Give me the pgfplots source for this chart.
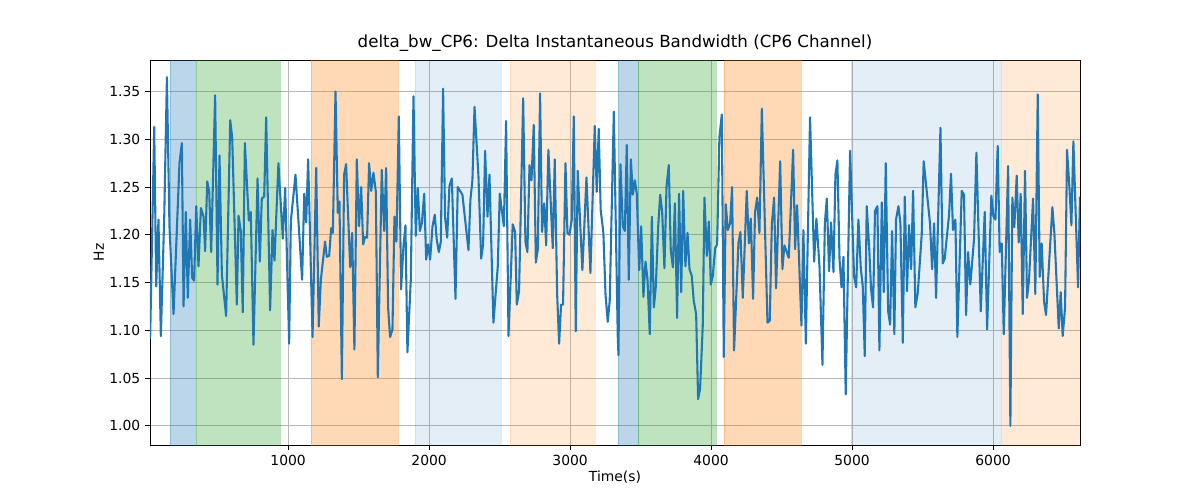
\documentclass[border=0pt]{standalone}
\usepackage{pgfplots}
\pgfplotsset{compat=1.18}
\usepackage{fontspec}
\setmainfont{DejaVu Sans}
\definecolor{cblue}{HTML}{1F77B4}
\definecolor{corange}{HTML}{FF7F0E}
\definecolor{cgreen}{HTML}{2CA02C}
\pgfplotsset{span/.style n args={2}{fill=#1, fill opacity=#2, draw=#1, draw opacity=#2, forget plot}}
\begin{document}
\begin{tikzpicture}
\path[use as bounding box] (-108pt,-39.6pt) rectangle (756pt,320.4pt);
\begin{axis}[
  at={(0,0)}, anchor=south west, scale only axis,
  width=669.6pt, height=277.2pt,
  xmin=20, xmax=6617, ymin=0.980, ymax=1.383,
  xtick={1000,2000,3000,4000,5000,6000},
  ytick={1.00,1.05,1.10,1.15,1.20,1.25,1.30,1.35},
  xtick pos=bottom, ytick pos=left,
  yticklabel style={/pgf/number format/.cd,fixed,fixed zerofill,precision=2},
  xticklabel style={/pgf/number format/.cd,1000 sep={}},
  /pgf/number format/assume math mode=true,
  ticklabel style={font=\fontsize{10}{12}\selectfont},
  grid=major, grid style={color=black!28, line width=0.6pt},
  tick align=outside, major tick length=3.5pt,
  tick style={black, line width=0.6pt},
  axis line style={line width=0.6pt},
  title={delta\_bw\_CP6: Delta Instantaneous Bandwidth (CP6 Channel)},
  title style={font=\fontsize{12}{14}\selectfont, yshift=-3pt},
  xlabel={Time(s)}, ylabel={Hz},
  label style={font=\fontsize{10}{12}\selectfont},
  xlabel style={yshift=3pt}, ylabel style={yshift=-3pt},
]
\addplot[span={cblue}{0.3}] coordinates {(163,0.9)(340,0.9)(340,1.5)(163,1.5)(163,0.9)};
\addplot[span={cgreen}{0.3}] coordinates {(348,0.9)(943,0.9)(943,1.5)(348,1.5)(348,0.9)};
\addplot[span={corange}{0.3}] coordinates {(1163,0.9)(1780,0.9)(1780,1.5)(1163,1.5)(1163,0.9)};
\addplot[span={cblue}{0.12}] coordinates {(1900,0.9)(2511,0.9)(2511,1.5)(1900,1.5)(1900,0.9)};
\addplot[span={corange}{0.16}] coordinates {(2574,0.9)(3177,0.9)(3177,1.5)(2574,1.5)(2574,0.9)};
\addplot[span={cblue}{0.3}] coordinates {(3340,0.9)(3482,0.9)(3482,1.5)(3340,1.5)(3340,0.9)};
\addplot[span={cgreen}{0.3}] coordinates {(3482,0.9)(4035,0.9)(4035,1.5)(3482,1.5)(3482,0.9)};
\addplot[span={corange}{0.3}] coordinates {(4092,0.9)(4638,0.9)(4638,1.5)(4092,1.5)(4092,0.9)};
\addplot[span={cblue}{0.12}] coordinates {(4993,0.9)(6050,0.9)(6050,1.5)(4993,1.5)(4993,0.9)};
\addplot[span={corange}{0.16}] coordinates {(6057,0.9)(6617,0.9)(6617,1.5)(6057,1.5)(6057,0.9)};
\addplot[cblue, line width=1.5pt, line join=round] coordinates {
(21,1.091)(50,1.313)(64,1.146)(80,1.216)(97,1.094)(121,1.219)(140,1.365)(158,1.209)(187,1.117)(229,1.275)(246,1.296)(258,1.125)(274,1.224)(288,1.134)(305,1.216)(319,1.155)(333,1.152)(348,1.230)(364,1.167)(381,1.228)(400,1.219)(411,1.183)(426,1.256)(440,1.245)(454,1.182)(482,1.346)(499,1.148)(513,1.283)(530,1.158)(560,1.115)(589,1.320)(603,1.302)(636,1.127)(648,1.220)(664,1.204)(678,1.119)(693,1.296)(721,1.215)(735,1.224)(754,1.085)(783,1.259)(799,1.172)(813,1.238)(830,1.240)(844,1.323)(872,1.121)(889,1.205)(903,1.173)(931,1.275)(962,1.196)(979,1.249)(1007,1.086)(1019,1.214)(1052,1.263)(1071,1.219)(1099,1.153)(1114,1.243)(1128,1.213)(1142,1.279)(1173,1.093)(1199,1.270)(1217,1.104)(1232,1.153)(1262,1.193)(1274,1.177)(1291,1.178)(1305,1.207)(1317,1.202)(1336,1.350)(1352,1.223)(1364,1.235)(1381,1.049)(1397,1.263)(1411,1.274)(1440,1.166)(1454,1.202)(1470,1.080)(1487,1.279)(1503,1.209)(1518,1.250)(1532,1.190)(1546,1.198)(1560,1.197)(1574,1.275)(1589,1.246)(1605,1.265)(1622,1.245)(1636,1.051)(1664,1.268)(1681,1.204)(1695,1.270)(1709,1.124)
(1723,1.093)(1740,1.101)(1754,1.219)(1768,1.193)(1785,1.324)(1801,1.143)(1818,1.188)(1832,1.210)(1846,1.077)(1870,1.153)(1889,1.345)(1905,1.199)(1920,1.249)(1934,1.204)(1948,1.212)(1965,1.243)(1979,1.174)(1993,1.190)(2007,1.174)(2024,1.209)(2040,1.221)(2054,1.195)(2069,1.182)(2083,1.193)(2099,1.353)(2113,1.219)(2128,1.197)(2144,1.251)(2161,1.259)(2187,1.133)(2203,1.250)(2236,1.242)(2279,1.184)(2293,1.237)(2307,1.257)(2322,1.334)(2350,1.261)(2369,1.175)(2383,1.190)(2397,1.288)(2414,1.219)(2428,1.263)(2456,1.108)(2487,1.167)(2501,1.243)(2530,1.209)(2546,1.319)(2563,1.094)(2593,1.211)(2610,1.203)(2622,1.127)(2638,1.141)(2667,1.343)(2683,1.193)(2697,1.182)(2712,1.273)(2726,1.257)(2742,1.315)(2757,1.171)(2771,1.185)(2787,1.348)(2801,1.203)(2816,1.233)(2830,1.189)(2846,1.289)(2877,1.186)(2891,1.279)(2908,1.138)(2922,1.086)(2936,1.127)(2950,1.127)(2967,1.275)(2981,1.202)(2995,1.200)(3012,1.216)(3026,1.324)(3040,1.099)(3054,1.267)(3087,1.163)(3116,1.260)(3144,1.160)(3175,1.314)(3189,1.245)(3203,1.311)(3217,1.226)(3236,1.202)(3251,1.138)(3267,1.109)(3281,1.131)(3310,1.329)(3338,1.094)(3343,1.074)(3357,1.274)
(3374,1.209)(3388,1.204)(3402,1.294)(3416,1.153)(3431,1.279)(3445,1.242)(3459,1.257)(3473,1.243)(3490,1.163)(3504,1.209)(3520,1.135)(3535,1.172)(3549,1.153)(3565,1.096)(3580,1.219)(3594,1.124)(3608,1.146)(3625,1.209)(3639,1.242)(3653,1.224)(3669,1.165)(3684,1.251)(3700,1.273)(3714,1.184)(3729,1.166)(3743,1.233)(3759,1.113)(3773,1.243)(3788,1.140)(3802,1.246)(3818,1.167)(3833,1.202)(3847,1.164)(3863,1.157)(3877,1.131)(3894,1.117)(3908,1.028)(3922,1.039)(3941,1.105)(3953,1.239)(3970,1.178)(3984,1.214)(3998,1.148)(4012,1.157)(4029,1.186)(4043,1.190)(4059,1.302)(4076,1.326)(4090,1.072)(4104,1.232)(4119,1.205)(4135,1.212)(4149,1.250)(4163,1.079)(4194,1.191)(4208,1.203)(4225,1.134)(4253,1.246)(4268,1.191)(4282,1.217)(4298,1.133)(4312,1.224)(4327,1.239)(4343,1.202)(4360,1.332)(4400,1.108)(4416,1.110)(4431,1.211)(4447,1.239)(4461,1.144)(4490,1.277)(4506,1.164)(4520,1.189)(4537,1.182)(4551,1.176)(4582,1.289)(4596,1.185)(4610,1.231)(4641,1.105)(4655,1.205)(4672,1.086)(4702,1.323)(4731,1.172)(4747,1.217)(4769,1.167)(4790,1.064)(4807,1.212)(4821,1.238)(4837,1.162)(4851,1.213)(4868,1.161)(4882,1.263)(4896,1.278)(4911,1.175)(4925,1.145)(4939,1.177)(4955,1.033)(4986,1.288)
(5014,1.157)(5029,1.145)(5045,1.216)(5062,1.165)(5076,1.146)(5090,1.073)(5104,1.230)(5121,1.188)(5135,1.143)(5149,1.124)(5163,1.225)(5180,1.230)(5194,1.079)(5211,1.234)(5225,1.140)(5239,1.275)(5256,1.120)(5270,1.106)(5284,1.204)(5300,1.096)(5312,1.216)(5329,1.230)(5343,1.212)(5360,1.087)(5374,1.240)(5390,1.141)(5404,1.210)(5419,1.164)(5433,1.246)(5449,1.124)(5466,1.139)(5494,1.200)(5508,1.277)(5553,1.212)(5568,1.164)(5582,1.212)(5596,1.134)(5627,1.312)(5643,1.170)(5657,1.175)(5688,1.221)(5702,1.264)(5716,1.205)(5733,1.216)(5747,1.093)(5778,1.246)(5794,1.242)(5809,1.116)(5823,1.182)(5839,1.148)(5865,1.195)(5882,1.286)(5913,1.120)(5941,1.224)(5958,1.101)(5988,1.241)(6003,1.219)(6017,1.216)(6033,1.293)(6047,1.182)(6062,1.191)(6076,1.096)(6107,1.272)(6123,1.000)(6137,1.239)(6151,1.208)(6168,1.262)(6182,1.192)(6196,1.243)(6211,1.117)(6227,1.267)(6241,1.134)(6255,1.152)(6284,1.238)(6300,1.138)(6317,1.347)(6331,1.156)(6345,1.191)(6362,1.130)(6376,1.116)(6421,1.229)(6435,1.202)(6466,1.102)(6480,1.140)(6494,1.094)(6511,1.124)(6525,1.289)(6542,1.249)(6556,1.210)(6570,1.298)(6603,1.145)(6617,1.240)
};
\end{axis}
\end{tikzpicture}
\end{document}
